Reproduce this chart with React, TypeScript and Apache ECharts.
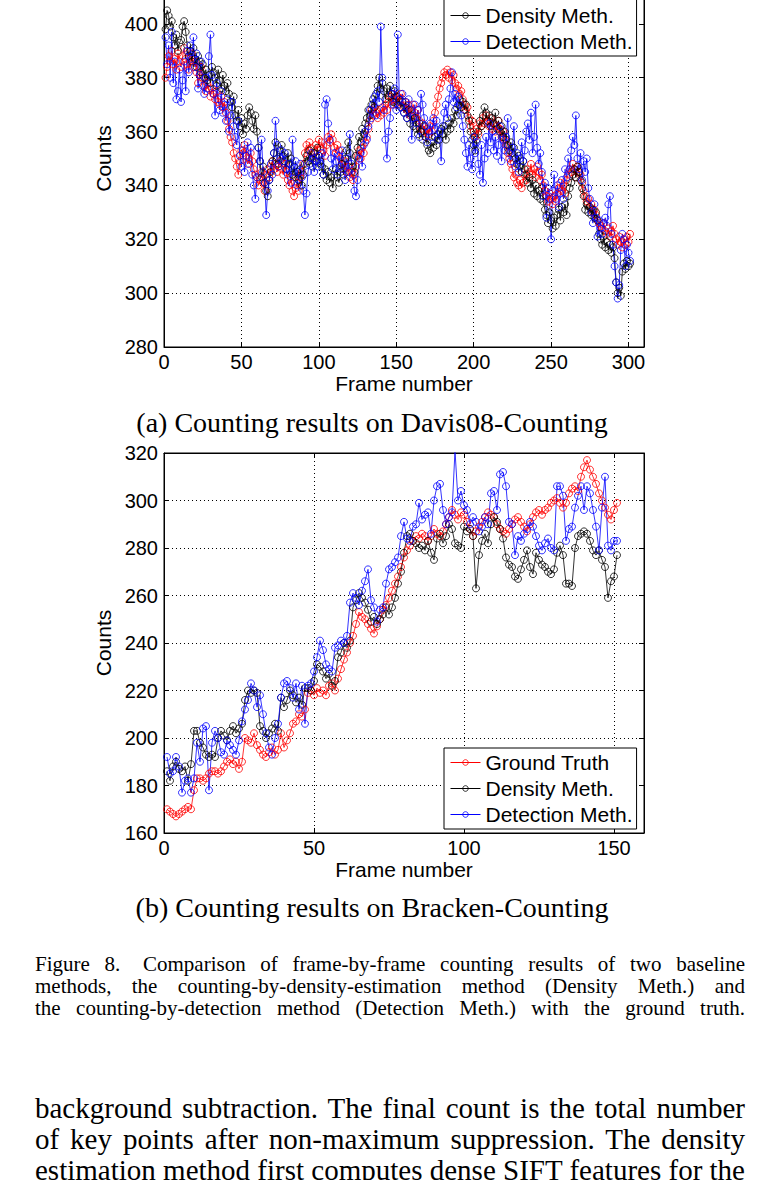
import React, { useEffect, useRef } from "react";
import * as echarts from "echarts";

const seriesNames = ["Ground Truth", "Density Meth.", "Detection Meth."];
const seriesColors = ["#ff0000", "#000000", "#0000ff"];

// (a) Davis08-Counting, frames 1..301
const davisGroundTruth = [
  380, 384, 388, 386, 390, 385, 387, 383, 389, 386,
  384, 388, 391, 387, 385, 383, 386, 389, 384, 386,
  382, 378, 381, 384, 380, 377, 375, 378, 376, 373,
  376, 374, 372, 375, 371, 370, 373, 369, 371, 367,
  364, 361, 358, 356, 352, 350, 347, 344, 349, 353,
  352, 355, 351, 348, 350, 352, 349, 346, 344, 343,
  340, 342, 345, 341, 338, 344, 346, 343, 347, 349,
  346, 348, 345, 347, 349, 346, 344, 348, 345, 342,
  340, 343, 338, 336, 339, 341, 338, 343, 345, 348,
  352, 355, 353, 356, 354, 350, 352, 355, 353, 357,
  354, 356, 353, 351, 355, 358, 356, 359, 357, 354,
  352, 355, 353, 350, 348, 346, 349, 345, 347, 343,
  345, 342, 344, 347, 351, 353, 350, 354, 352, 356,
  358, 361, 364, 368, 366, 369, 367, 365, 368, 366,
  369, 367, 370, 368, 371, 373, 370, 374, 372, 370,
  373, 371, 374, 372, 369, 371, 368, 370, 366, 368,
  370, 367, 365, 368, 364, 361, 363, 360, 358, 361,
  359, 362, 360, 364, 367, 370, 373, 376, 378, 380,
  382, 381, 383, 380, 382, 379, 381, 378, 376, 377,
  374, 375, 372, 370, 368, 369, 365, 362, 364, 360,
  358, 361, 359, 363, 362, 365, 363, 366, 364, 362,
  365, 361, 363, 360, 362, 364, 361, 358, 360, 357,
  355, 352, 350, 348, 346, 343, 344, 341, 340, 342,
  339, 341, 344, 342, 346, 345, 348, 344, 346, 343,
  347, 345, 342, 344, 340, 338, 336, 334, 337, 335,
  333, 336, 334, 337, 339, 341, 338, 340, 337, 342,
  344, 346, 345, 348, 346, 343, 347, 345, 344, 341,
  338, 336, 334, 335, 332, 333, 330, 331, 329, 327,
  326, 325, 324, 326, 323, 322, 324, 321, 323, 325,
  322, 320, 318, 321, 319, 317, 320, 318, 321, 319,
  322,
];
const davisDensity = [
  398, 405, 403, 399, 401, 395, 392, 396, 390, 393,
  394, 399, 401, 397, 392, 388, 390, 386, 391, 387,
  384, 388, 386, 382, 385, 380, 383, 379, 381, 378,
  384, 382, 380, 377, 383, 379, 376, 381, 377, 375,
  378, 374, 371, 369, 373, 366, 364, 368, 362, 365,
  359, 363, 361, 366, 369, 367, 364, 361, 366, 360,
  354, 349, 343, 347, 341, 338, 336, 342, 345, 349,
  352, 356, 350, 348, 353, 355, 351, 349, 346, 352,
  348, 350, 344, 347, 343, 345, 342, 346, 340, 344,
  348, 351, 349, 353, 350, 347, 352, 349, 354, 351,
  349, 347, 344, 346, 342, 345, 341, 343, 339, 344,
  346, 343, 341, 345, 348, 344, 350, 353, 356, 352,
  349, 347, 345, 351, 354, 358, 356, 361, 359, 363,
  365, 368, 366, 370, 372, 369, 374, 377, 380, 376,
  378, 375, 372, 376, 373, 377, 374, 371, 375, 373,
  370, 372, 369, 371, 367, 369, 365, 368, 363, 366,
  362, 365, 361, 359, 363, 360, 357, 362, 358, 355,
  353, 352, 356, 354, 358, 355, 359, 357, 361, 359,
  362, 357, 360, 363, 361, 365, 363, 368, 366, 370,
  372, 369, 371, 368, 370, 366, 364, 360, 357, 355,
  353, 357, 360, 364, 362, 366, 369, 367, 364, 366,
  362, 365, 363, 367, 361, 364, 360, 362, 358, 360,
  357, 355, 353, 356, 352, 354, 350, 348, 351, 347,
  345, 349, 346, 344, 341, 343, 339, 342, 337, 340,
  336, 338, 335, 339, 334, 331, 329, 326, 330, 327,
  324, 328, 325, 329, 331, 327, 332, 330, 333, 329,
  336, 339, 341, 344, 346, 343, 347, 345, 342, 339,
  336, 331, 333, 330, 332, 329, 331, 328, 330, 327,
  322, 320, 318, 321, 317, 319, 316, 318, 315, 317,
  313, 304, 300, 302, 299, 308, 311, 309, 312, 310,
  311,
];
const davisDetection = [
  395, 385, 392, 380, 397, 378, 386, 372, 375, 383,
  371, 379, 386, 375, 390, 382, 392, 387, 395, 384,
  389, 376, 381, 386, 377, 374, 380, 376, 388, 396,
  381, 374, 366, 378, 372, 368, 375, 367, 370, 364,
  372, 360, 366, 371, 362, 358, 355, 364, 351, 347,
  353, 345, 351, 356, 348, 354, 344, 340, 335, 343,
  354, 349, 357, 345, 341, 329, 338, 342, 348, 344,
  352, 364, 355, 347, 350, 353, 349, 352, 346, 344,
  348, 341, 357, 345, 349, 340, 345, 348, 343, 338,
  329, 337, 345, 348, 352, 350, 345, 349, 347, 351,
  348, 352, 344, 370, 372, 363, 357, 350, 346, 352,
  349, 344, 351, 347, 353, 346, 342, 350, 345, 359,
  348, 344, 338, 336, 342, 350, 352, 347, 355, 360,
  357, 362, 368, 365, 370, 373, 366, 375, 371, 399,
  380, 368, 357, 350, 360, 365, 374, 370, 376, 368,
  396, 372, 369, 374, 367, 371, 365, 372, 368, 357,
  365, 370, 363, 368, 358, 374, 370, 365, 362, 356,
  360, 363, 358, 365, 361, 364, 357, 360, 349, 362,
  367, 370, 365, 372, 376, 382, 371, 374, 369, 373,
  370, 366, 362, 357, 352, 347, 355, 350, 346, 358,
  352, 356, 348, 344, 355, 341, 350, 358, 352, 363,
  356, 360, 353, 358, 351, 355, 362, 349, 357, 353,
  358, 365, 352, 349, 354, 362, 347, 352, 345, 350,
  356, 349, 353, 360, 363, 357, 367, 352, 358, 370,
  354, 348, 352, 345, 336, 341, 328, 339, 335, 320,
  338, 344, 335, 340, 332, 337, 342, 335, 346, 343,
  350, 346, 353, 358, 355, 366, 350, 346, 352, 342,
  349, 345, 350, 339, 335, 330, 326, 333, 328, 321,
  327, 324, 322, 326, 328, 325, 333, 336, 322, 318,
  310, 304, 298, 303, 316, 322, 320, 310, 318, 315,
  312,
];

// (b) Bracken-Counting, frames 1..151
const brackenGroundTruth = [
  170, 169, 168, 167, 168, 169, 170, 171, 170, 178,
  183, 183, 182, 183, 185, 186, 186, 185, 186, 188,
  190, 191, 189, 190, 187, 190, 200, 199, 198, 202,
  197, 195, 193, 192, 194, 196, 193, 195, 202, 196,
  199, 202, 206, 207, 210, 209, 212, 219, 220, 218,
  221, 219, 220, 218, 222, 223, 220, 225, 229, 233,
  236, 240, 243, 248, 253, 251, 250, 248, 246, 244,
  247, 250, 254, 256, 259, 262, 265, 268, 272, 276,
  279, 281, 283, 285, 284, 286, 285, 283, 285, 288,
  286, 285, 287, 290, 293, 296, 294, 292, 295, 294,
  291, 288, 285, 287, 289, 291, 293, 295, 294, 293,
  290, 288, 287, 286, 288, 290, 292, 293, 291, 289,
  287, 290, 293, 295, 296, 294, 296, 297, 299, 300,
  301, 299, 297, 299, 303, 305, 306, 304, 310, 314,
  317, 313, 310, 307, 303, 300, 297, 294, 292, 296,
  299,
];
const brackenDensity = [
  186, 182, 188, 190, 187, 186, 188, 182, 189, 203,
  203, 198, 196, 193, 192, 193, 192, 200, 203, 201,
  199, 203, 205, 202, 204, 206, 216, 220, 219, 220,
  219, 205, 203, 200, 202, 204, 206, 203, 217, 213,
  216, 220, 218, 215, 217, 214, 221, 221, 220, 224,
  231, 230, 228, 225, 227, 222, 224, 234, 236, 240,
  238, 241, 255, 258, 261, 259, 257, 254, 249, 251,
  248, 250, 252, 255, 252, 255, 259, 265, 270, 278,
  285, 286, 283, 282, 280, 281, 279, 283, 278, 275,
  284, 286, 282, 285, 290, 288, 282, 281, 280, 289,
  287, 288, 285, 263, 277, 283, 286, 282, 290, 293,
  291, 288, 284, 276, 273, 272, 268, 267, 271, 275,
  279, 272, 269, 278, 275, 273, 272, 270, 269, 271,
  278, 281, 277, 265, 265, 264, 280, 285, 286, 287,
  286, 283, 279, 277, 279, 275, 272, 259, 266, 268,
  277,
];
const brackenDetection = [
  192, 185, 186, 192, 188, 177, 182, 183, 177, 183,
  198, 190, 204, 205, 178, 198, 203, 200, 194, 193,
  199, 197, 195, 193, 199, 207, 212, 216, 223, 220,
  213, 218, 210, 202, 196, 193, 200, 206, 217, 223,
  224, 221, 217, 223, 212, 222, 206, 222, 223, 228,
  234, 241, 237, 231, 229, 228, 238, 239, 241, 240,
  243, 257, 261, 259, 256, 262, 266, 271, 258, 255,
  249, 254, 255, 265, 271, 272, 274, 276, 285, 291,
  284, 283, 289, 290, 299, 292, 294, 295, 286, 300,
  306, 307, 296, 290, 293, 295, 321, 300, 304, 298,
  296, 290, 293, 291, 287, 289, 293, 290, 303, 304,
  296, 311, 312, 306, 291, 290, 277, 285, 283, 286,
  288, 291, 289, 285, 281, 279, 282, 284, 280, 279,
  306, 306, 302, 283, 288, 289, 297, 302, 306, 296,
  306, 303, 296, 289, 279, 297, 310, 281, 279, 283,
  283,
];

const davisXTicks = { min: 0, max: 310, interval: 50 };
const davisYTicks = { min: 280, max: 420, interval: 20 };
const brackenXTicks = { min: 0, max: 160, interval: 50 };
const brackenYTicks = { min: 160, max: 320, interval: 20 };

const SANS = "'Liberation Sans', Arial, Helvetica, sans-serif";
const SERIF = "'Liberation Serif', 'Times New Roman', serif";
const OFFSET = 40; // chart canvas starts 40px above the page

const toPairs = (vals: number[]) => vals.map((v, i) => [i + 1, v]);

function mainX(gridIndex: number, t: { min: number; max: number; interval: number }) {
  return {
    type: "value",
    gridIndex,
    position: "bottom",
    min: t.min,
    max: t.max,
    interval: t.interval,
    axisLine: { show: true, onZero: false, lineStyle: { color: "#000", width: 1 } },
    axisTick: { show: true, inside: true, length: 5, lineStyle: { color: "#000", width: 1 } },
    axisLabel: {
      color: "#000",
      fontSize: 20,
      fontFamily: SANS,
      margin: 5,
      formatter: (v: number) => (v % t.interval === 0 ? String(v) : ""),
    },
    splitLine: { show: true, lineStyle: { color: "#000", width: 1, type: [1, 3] } },
    name: "Frame number",
    nameLocation: "middle",
    nameGap: 26,
    nameTextStyle: { color: "#000", fontSize: 21, fontFamily: SANS },
  };
}
function topX(gridIndex: number, t: { min: number; max: number; interval: number }) {
  return {
    type: "value",
    gridIndex,
    position: "top",
    min: t.min,
    max: t.max,
    interval: t.interval,
    axisLine: { show: true, onZero: false, lineStyle: { color: "#000", width: 1 } },
    axisTick: { show: true, inside: true, length: 5, lineStyle: { color: "#000", width: 1 } },
    axisLabel: { show: false },
    splitLine: { show: false },
  };
}
function mainY(gridIndex: number, t: { min: number; max: number; interval: number }) {
  return {
    type: "value",
    gridIndex,
    position: "left",
    min: t.min,
    max: t.max,
    interval: t.interval,
    axisLine: { show: true, onZero: false, lineStyle: { color: "#000", width: 1 } },
    axisTick: { show: true, inside: true, length: 5, lineStyle: { color: "#000", width: 1 } },
    axisLabel: { color: "#000", fontSize: 20, fontFamily: SANS, margin: 6 },
    splitLine: { show: true, lineStyle: { color: "#000", width: 1, type: [1, 3] } },
    name: "Counts",
    nameLocation: "middle",
    nameGap: 45,
    nameTextStyle: { color: "#000", fontSize: 21, fontFamily: SANS },
  };
}
function rightY(gridIndex: number, t: { min: number; max: number; interval: number }) {
  return {
    type: "value",
    gridIndex,
    position: "right",
    min: t.min,
    max: t.max,
    interval: t.interval,
    axisLine: { show: true, onZero: false, lineStyle: { color: "#000", width: 1 } },
    axisTick: { show: true, inside: true, length: 5, lineStyle: { color: "#000", width: 1 } },
    axisLabel: { show: false },
    splitLine: { show: false },
  };
}

function makeSeries(name: string, color: string, vals: number[], axisIndex: number) {
  return {
    type: "line",
    name,
    xAxisIndex: axisIndex,
    yAxisIndex: axisIndex,
    data: toPairs(vals),
    symbol: "circle",
    symbolSize: 7,
    showSymbol: true,
    silent: true,
    lineStyle: { color, width: 0.8 },
    itemStyle: { color: "rgba(255,255,255,0)", borderColor: color, borderWidth: 0.8 },
    emphasis: { disabled: true },
  };
}

function legendAt(top: number) {
  return {
    data: seriesNames,
    orient: "vertical",
    left: 444,
    top,
    selectedMode: false,
    backgroundColor: "#fff",
    borderColor: "#000",
    borderWidth: 1,
    borderRadius: 0,
    padding: [4, 4, 4, 6],
    itemGap: 5,
    itemWidth: 30,
    itemHeight: 7,
    lineStyle: { width: 1 },
    itemStyle: { borderWidth: 0.8 },
    textStyle: { color: "#000", fontSize: 21, fontFamily: SANS, lineHeight: 20 },
  };
}

export default function App() {
  const ref = useRef<HTMLDivElement>(null);
  useEffect(() => {
    if (!ref.current) return;
    const chart = echarts.init(ref.current, null, { renderer: "svg" });
    const option: any = {
      animation: false,
      backgroundColor: "#fff",
      grid: [
        { left: 164, width: 480, top: -30 + OFFSET, height: 377, show: true, borderColor: "#000", borderWidth: 1, containLabel: false },
        { left: 164, width: 480, top: 453 + OFFSET, height: 380, show: true, borderColor: "#000", borderWidth: 1, containLabel: false },
      ],
      xAxis: [mainX(0, davisXTicks), mainX(1, brackenXTicks), topX(0, davisXTicks), topX(1, brackenXTicks)],
      yAxis: [mainY(0, davisYTicks), mainY(1, brackenYTicks), rightY(0, davisYTicks), rightY(1, brackenYTicks)],
      legend: [legendAt(-25 + OFFSET), legendAt(748 + OFFSET)],
      series: [
        makeSeries(seriesNames[0], seriesColors[0], davisGroundTruth, 0),
        makeSeries(seriesNames[1], seriesColors[1], davisDensity, 0),
        makeSeries(seriesNames[2], seriesColors[2], davisDetection, 0),
        makeSeries(seriesNames[0], seriesColors[0], brackenGroundTruth, 1),
        makeSeries(seriesNames[1], seriesColors[1], brackenDensity, 1),
        makeSeries(seriesNames[2], seriesColors[2], brackenDetection, 1),
      ],
    };
    chart.setOption(option);
    return () => chart.dispose();
  }, []);

  const lineStyle = (top: number, size: number, lh: number): React.CSSProperties => ({
    position: "absolute",
    left: 35,
    width: 710,
    top,
    fontFamily: SERIF,
    fontSize: size,
    lineHeight: `${lh}px`,
    textAlign: "justify",
    textAlignLast: "justify",
    whiteSpace: "nowrap",
    color: "#000",
  });
  const centerStyle = (top: number): React.CSSProperties => ({
    position: "absolute",
    left: 0,
    width: 744,
    top,
    fontFamily: SERIF,
    fontSize: 28,
    lineHeight: "32px",
    textAlign: "center",
    whiteSpace: "nowrap",
    color: "#000",
  });

  return (
    <div style={{ position: "fixed", left: 0, top: 0, width: 780, height: 1180, overflow: "hidden", background: "#fff" }}>
      <div ref={ref} style={{ position: "absolute", left: 0, top: -OFFSET, width: 780, height: 1180 + OFFSET }} />
      <div style={centerStyle(407)}>(a) Counting results on Davis08-Counting</div>
      <div style={centerStyle(892)}>(b) Counting results on Bracken-Counting</div>
      <div style={lineStyle(953, 21, 22)}>
        <span style={{ marginRight: 8 }}>Figure 8.</span> Comparison of frame-by-frame counting results of two baseline
      </div>
      <div style={lineStyle(975, 21, 22)}>
        methods, the counting-by-density-estimation method (Density Meth.) and
      </div>
      <div style={lineStyle(997, 21, 22)}>
        the counting-by-detection method (Detection Meth.) with the ground truth.
      </div>
      <div style={lineStyle(1093, 29, 31)}>background subtraction. The final count is the total number</div>
      <div style={lineStyle(1124, 29, 31)}>of key points after non-maximum suppression. The density</div>
      <div style={lineStyle(1155, 29, 31)}>estimation method first computes dense SIFT features for the</div>
    </div>
  );
}
